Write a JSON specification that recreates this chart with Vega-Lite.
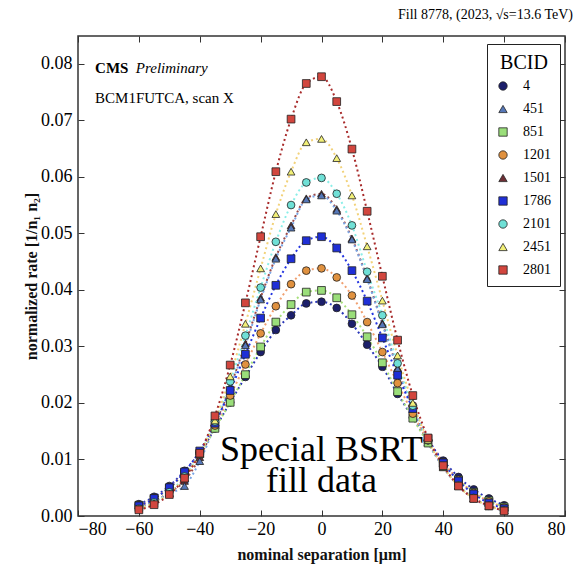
{
  "$schema": "https://vega.github.io/schema/vega-lite/v6.json",
  "width": 487,
  "height": 480,
  "autosize": {"type": "none"},
  "padding": {"left": 78, "top": 36, "right": 12, "bottom": 56},
  "background": "white",
  "config": {
    "view": {"stroke": "#333", "strokeWidth": 1.5},
    "font": "Liberation Serif",
    "legend": {"titleFont": "Liberation Serif", "titleFontSize": 20, "titleFontWeight": "normal", "titleColor": "black", "titleAnchor": "middle", "titlePadding": 6,
               "labelFont": "Liberation Serif", "labelFontSize": 14, "labelColor": "black", "labelOffset": 13, "padding": 9, "strokeColor": "#222", "fillColor": "white",
               "symbolStrokeColor": "#222", "symbolStrokeWidth": 0.8, "symbolSize": 70, "rowPadding": 9}
  },
  "title": {"text": "Fill 8778, (2023, √s=13.6 TeV)", "anchor": "end", "frame": "group", "font": "Liberation Serif", "fontSize": 14, "fontWeight": "normal", "color": "black", "dx": 8, "offset": 14},
  "datasets": {
    "scan": [
      {"b":"1501","x":-60,"y":0.0016},{"b":"1501","x":-55,"y":0.0026},{"b":"1501","x":-50,"y":0.0042},{"b":"1501","x":-45,"y":0.0062},{"b":"1501","x":-40,"y":0.0104},{"b":"1501","x":-35,"y":0.0162},{"b":"1501","x":-30,"y":0.0229},{"b":"1501","x":-25,"y":0.0305},{"b":"1501","x":-20,"y":0.0386},{"b":"1501","x":-15,"y":0.0458},{"b":"1501","x":-10,"y":0.0514},{"b":"1501","x":-5,"y":0.0562},{"b":"1501","x":0,"y":0.0570},{"b":"1501","x":5,"y":0.0543},{"b":"1501","x":10,"y":0.0491},{"b":"1501","x":15,"y":0.0421},{"b":"1501","x":20,"y":0.0341},{"b":"1501","x":25,"y":0.0262},{"b":"1501","x":30,"y":0.0190},{"b":"1501","x":35,"y":0.0131},{"b":"1501","x":40,"y":0.0087},{"b":"1501","x":45,"y":0.0054},{"b":"1501","x":50,"y":0.0032},{"b":"1501","x":55,"y":0.0018},{"b":"1501","x":60,"y":0.0010},
      {"b":"4","x":-60,"y":0.0021},{"b":"4","x":-55,"y":0.0034},{"b":"4","x":-50,"y":0.0053},{"b":"4","x":-45,"y":0.0080},{"b":"4","x":-40,"y":0.0112},{"b":"4","x":-35,"y":0.0155},{"b":"4","x":-30,"y":0.0201},{"b":"4","x":-25,"y":0.0246},{"b":"4","x":-20,"y":0.0290},{"b":"4","x":-15,"y":0.0329},{"b":"4","x":-10,"y":0.0355},{"b":"4","x":-5,"y":0.0376},{"b":"4","x":0,"y":0.0379},{"b":"4","x":5,"y":0.0368},{"b":"4","x":10,"y":0.0340},{"b":"4","x":15,"y":0.0303},{"b":"4","x":20,"y":0.0264},{"b":"4","x":25,"y":0.0216},{"b":"4","x":30,"y":0.0174},{"b":"4","x":35,"y":0.0133},{"b":"4","x":40,"y":0.0098},{"b":"4","x":45,"y":0.0069},{"b":"4","x":50,"y":0.0047},{"b":"4","x":55,"y":0.0031},{"b":"4","x":60,"y":0.0019},
      {"b":"451","x":-60,"y":0.0015},{"b":"451","x":-55,"y":0.0025},{"b":"451","x":-50,"y":0.0040},{"b":"451","x":-45,"y":0.0053},{"b":"451","x":-40,"y":0.0097},{"b":"451","x":-35,"y":0.0160},{"b":"451","x":-30,"y":0.0227},{"b":"451","x":-25,"y":0.0302},{"b":"451","x":-20,"y":0.0383},{"b":"451","x":-15,"y":0.0455},{"b":"451","x":-10,"y":0.0510},{"b":"451","x":-5,"y":0.0560},{"b":"451","x":0,"y":0.0567},{"b":"451","x":5,"y":0.0540},{"b":"451","x":10,"y":0.0489},{"b":"451","x":15,"y":0.0419},{"b":"451","x":20,"y":0.0339},{"b":"451","x":25,"y":0.0260},{"b":"451","x":30,"y":0.0189},{"b":"451","x":35,"y":0.0130},{"b":"451","x":40,"y":0.0086},{"b":"451","x":45,"y":0.0053},{"b":"451","x":50,"y":0.0031},{"b":"451","x":55,"y":0.0017},{"b":"451","x":60,"y":0.0010},
      {"b":"851","x":-60,"y":0.0019},{"b":"851","x":-55,"y":0.0031},{"b":"851","x":-50,"y":0.0049},{"b":"851","x":-45,"y":0.0076},{"b":"851","x":-40,"y":0.0110},{"b":"851","x":-35,"y":0.0155},{"b":"851","x":-30,"y":0.0201},{"b":"851","x":-25,"y":0.0250},{"b":"851","x":-20,"y":0.0299},{"b":"851","x":-15,"y":0.0343},{"b":"851","x":-10,"y":0.0374},{"b":"851","x":-5,"y":0.0396},{"b":"851","x":0,"y":0.0399},{"b":"851","x":5,"y":0.0386},{"b":"851","x":10,"y":0.0356},{"b":"851","x":15,"y":0.0317},{"b":"851","x":20,"y":0.0271},{"b":"851","x":25,"y":0.0220},{"b":"851","x":30,"y":0.0173},{"b":"851","x":35,"y":0.0129},{"b":"851","x":40,"y":0.0093},{"b":"851","x":45,"y":0.0064},{"b":"851","x":50,"y":0.0042},{"b":"851","x":55,"y":0.0027},{"b":"851","x":60,"y":0.0016},
      {"b":"1201","x":-60,"y":0.0019},{"b":"1201","x":-55,"y":0.0031},{"b":"1201","x":-50,"y":0.0050},{"b":"1201","x":-45,"y":0.0077},{"b":"1201","x":-40,"y":0.0112},{"b":"1201","x":-35,"y":0.0160},{"b":"1201","x":-30,"y":0.0213},{"b":"1201","x":-25,"y":0.0268},{"b":"1201","x":-20,"y":0.0323},{"b":"1201","x":-15,"y":0.0371},{"b":"1201","x":-10,"y":0.0410},{"b":"1201","x":-5,"y":0.0434},{"b":"1201","x":0,"y":0.0438},{"b":"1201","x":5,"y":0.0422},{"b":"1201","x":10,"y":0.0390},{"b":"1201","x":15,"y":0.0343},{"b":"1201","x":20,"y":0.0290},{"b":"1201","x":25,"y":0.0235},{"b":"1201","x":30,"y":0.0181},{"b":"1201","x":35,"y":0.0134},{"b":"1201","x":40,"y":0.0095},{"b":"1201","x":45,"y":0.0064},{"b":"1201","x":50,"y":0.0041},{"b":"1201","x":55,"y":0.0026},{"b":"1201","x":60,"y":0.0015},
      {"b":"1786","x":-60,"y":0.0018},{"b":"1786","x":-55,"y":0.0031},{"b":"1786","x":-50,"y":0.0050},{"b":"1786","x":-45,"y":0.0078},{"b":"1786","x":-40,"y":0.0115},{"b":"1786","x":-35,"y":0.0164},{"b":"1786","x":-30,"y":0.0222},{"b":"1786","x":-25,"y":0.0286},{"b":"1786","x":-20,"y":0.0350},{"b":"1786","x":-15,"y":0.0408},{"b":"1786","x":-10,"y":0.0455},{"b":"1786","x":-5,"y":0.0487},{"b":"1786","x":0,"y":0.0494},{"b":"1786","x":5,"y":0.0474},{"b":"1786","x":10,"y":0.0434},{"b":"1786","x":15,"y":0.0380},{"b":"1786","x":20,"y":0.0315},{"b":"1786","x":25,"y":0.0249},{"b":"1786","x":30,"y":0.0190},{"b":"1786","x":35,"y":0.0137},{"b":"1786","x":40,"y":0.0094},{"b":"1786","x":45,"y":0.0062},{"b":"1786","x":50,"y":0.0039},{"b":"1786","x":55,"y":0.0023},{"b":"1786","x":60,"y":0.0013},
      {"b":"2101","x":-60,"y":0.0013},{"b":"2101","x":-55,"y":0.0024},{"b":"2101","x":-50,"y":0.0042},{"b":"2101","x":-45,"y":0.0070},{"b":"2101","x":-40,"y":0.0111},{"b":"2101","x":-35,"y":0.0167},{"b":"2101","x":-30,"y":0.0238},{"b":"2101","x":-25,"y":0.0319},{"b":"2101","x":-20,"y":0.0404},{"b":"2101","x":-15,"y":0.0485},{"b":"2101","x":-10,"y":0.0550},{"b":"2101","x":-5,"y":0.0590},{"b":"2101","x":0,"y":0.0598},{"b":"2101","x":5,"y":0.0570},{"b":"2101","x":10,"y":0.0514},{"b":"2101","x":15,"y":0.0432},{"b":"2101","x":20,"y":0.0355},{"b":"2101","x":25,"y":0.0270},{"b":"2101","x":30,"y":0.0195},{"b":"2101","x":35,"y":0.0134},{"b":"2101","x":40,"y":0.0088},{"b":"2101","x":45,"y":0.0054},{"b":"2101","x":50,"y":0.0032},{"b":"2101","x":55,"y":0.0018},{"b":"2101","x":60,"y":0.0010},
      {"b":"2451","x":-60,"y":0.0013},{"b":"2451","x":-55,"y":0.0023},{"b":"2451","x":-50,"y":0.0040},{"b":"2451","x":-45,"y":0.0068},{"b":"2451","x":-40,"y":0.0110},{"b":"2451","x":-35,"y":0.0169},{"b":"2451","x":-30,"y":0.0247},{"b":"2451","x":-25,"y":0.0340},{"b":"2451","x":-20,"y":0.0438},{"b":"2451","x":-15,"y":0.0534},{"b":"2451","x":-10,"y":0.0609},{"b":"2451","x":-5,"y":0.0661},{"b":"2451","x":0,"y":0.0667},{"b":"2451","x":5,"y":0.0633},{"b":"2451","x":10,"y":0.0567},{"b":"2451","x":15,"y":0.0477},{"b":"2451","x":20,"y":0.0381},{"b":"2451","x":25,"y":0.0284},{"b":"2451","x":30,"y":0.0200},{"b":"2451","x":35,"y":0.0134},{"b":"2451","x":40,"y":0.0087},{"b":"2451","x":45,"y":0.0053},{"b":"2451","x":50,"y":0.0031},{"b":"2451","x":55,"y":0.0018},{"b":"2451","x":60,"y":0.0010},
      {"b":"2801","x":-60,"y":0.0011},{"b":"2801","x":-55,"y":0.0020},{"b":"2801","x":-50,"y":0.0038},{"b":"2801","x":-45,"y":0.0067},{"b":"2801","x":-40,"y":0.0111},{"b":"2801","x":-35,"y":0.0177},{"b":"2801","x":-30,"y":0.0267},{"b":"2801","x":-25,"y":0.0377},{"b":"2801","x":-20,"y":0.0494},{"b":"2801","x":-15,"y":0.0609},{"b":"2801","x":-10,"y":0.0702},{"b":"2801","x":-5,"y":0.0765},{"b":"2801","x":0,"y":0.0777},{"b":"2801","x":5,"y":0.0733},{"b":"2801","x":10,"y":0.0649},{"b":"2801","x":15,"y":0.0539},{"b":"2801","x":20,"y":0.0424},{"b":"2801","x":25,"y":0.0311},{"b":"2801","x":30,"y":0.0213},{"b":"2801","x":35,"y":0.0138},{"b":"2801","x":40,"y":0.0089},{"b":"2801","x":45,"y":0.0053},{"b":"2801","x":50,"y":0.0031},{"b":"2801","x":55,"y":0.0018},{"b":"2801","x":60,"y":0.0009}
    ],
    "one": [{}]
  },
  "layer": [
    {
      "data": {"name": "scan"},
      "mark": {"type": "line", "strokeDash": [2, 3], "strokeWidth": 2, "interpolate": "monotone"},
      "encoding": {
        "x": {"field": "x", "type": "quantitative", "scale": {"domain": [-80, 80], "nice": false, "zero": false},
              "axis": {"values": [-80, -60, -40, -20, 0, 20, 40, 60, 80], "title": "nominal separation [μm]", "grid": false, "domain": false,
                       "tickSize": -6, "tickColor": "#333", "labelPadding": 10, "labelFont": "Liberation Serif", "labelFontSize": 18, "labelColor": "black",
                       "titleFont": "Liberation Serif", "titleFontSize": 16, "titleFontWeight": "bold", "titleColor": "#111", "titlePadding": 8}},
        "y": {"field": "y", "type": "quantitative", "scale": {"domain": [0, 0.0849], "nice": false},
              "axis": {"values": [0, 0.01, 0.02, 0.03, 0.04, 0.05, 0.06, 0.07, 0.08], "format": ".2f", "title": "normalized rate [1/n₁ n₂]", "grid": false, "domain": false,
                       "tickSize": -6, "tickColor": "#333", "labelPadding": 12, "labelFont": "Liberation Serif", "labelFontSize": 18, "labelColor": "black",
                       "titleFont": "Liberation Serif", "titleFontSize": 16, "titleFontWeight": "bold", "titleColor": "#111", "titlePadding": 1}},
        "color": {"field": "b", "type": "nominal", "legend": null,
                  "scale": {"domain": ["4","451","851","1201","1501","1786","2101","2451","2801"],
                            "range": ["#2a36b8","#7aa6e6","#a8e07c","#f0a070","#9a4a4a","#2434e0","#8aeee8","#f2d27a","#a82a2a"]}}
      }
    },
    {
      "data": {"name": "scan"},
      "mark": {"type": "point", "filled": true, "size": 60, "stroke": "#222", "strokeWidth": 0.8, "opacity": 1},
      "encoding": {
        "x": {"field": "x", "type": "quantitative", "axis": {"orient": "top", "labels": false, "title": null, "grid": false, "domain": false, "tickSize": -6, "tickColor": "#333", "values": [-80, -60, -40, -20, 0, 20, 40, 60, 80]}},
        "y": {"field": "y", "type": "quantitative", "axis": {"orient": "right", "labels": false, "title": null, "grid": false, "domain": false, "tickSize": -6, "tickColor": "#333", "values": [0, 0.01, 0.02, 0.03, 0.04, 0.05, 0.06, 0.07, 0.08]}},
        "color": {"field": "b", "type": "nominal", "title": "BCID",
                  "scale": {"domain": ["4","451","851","1201","1501","1786","2101","2451","2801"],
                            "range": ["#1c1f6b","#5577b8","#9ade7a","#e0913f","#6e2f35","#1f2fd6","#6fe0d6","#f2f078","#d2463e"]},
                  "legend": {"orient": "none", "legendX": 409, "legendY": 8}},
        "shape": {"field": "b", "type": "nominal", "title": "BCID",
                  "scale": {"domain": ["4","451","851","1201","1501","1786","2101","2451","2801"],
                            "range": ["circle","triangle-up","square","circle","triangle-up","square","circle","triangle-up","square"]},
                  "legend": {"orient": "none", "legendX": 409, "legendY": 8}}
      }
    },
    {
      "data": {"name": "one"},
      "mark": {"type": "text", "text": "CMS", "font": "Liberation Serif", "fontSize": 15, "fontWeight": "bold", "align": "left", "baseline": "alphabetic", "color": "black"},
      "encoding": {"x": {"datum": -74.4, "type": "quantitative", "axis": null}, "y": {"datum": 0.0783, "type": "quantitative", "axis": null}}
    },
    {
      "data": {"name": "one"},
      "mark": {"type": "text", "text": "Preliminary", "font": "Liberation Serif", "fontSize": 15, "fontStyle": "italic", "align": "left", "baseline": "alphabetic", "color": "black"},
      "encoding": {"x": {"datum": -61, "type": "quantitative", "axis": null}, "y": {"datum": 0.0783, "type": "quantitative", "axis": null}}
    },
    {
      "data": {"name": "one"},
      "mark": {"type": "text", "text": "BCM1FUTCA, scan X", "font": "Liberation Serif", "fontSize": 15, "align": "left", "baseline": "alphabetic", "color": "black"},
      "encoding": {"x": {"datum": -74.4, "type": "quantitative", "axis": null}, "y": {"datum": 0.0730, "type": "quantitative", "axis": null}}
    },
    {
      "data": {"name": "one"},
      "mark": {"type": "text", "text": ["Special BSRT", "fill data"], "lineHeight": 31, "font": "Liberation Serif", "fontSize": 36, "align": "center", "baseline": "alphabetic", "color": "black"},
      "encoding": {"x": {"datum": 0, "type": "quantitative", "axis": null}, "y": {"datum": 0.0097, "type": "quantitative", "axis": null}}
    }
  ],
  "resolve": {"scale": {"color": "independent", "shape": "independent"}, "axis": {"x": "independent", "y": "independent"}}
}
